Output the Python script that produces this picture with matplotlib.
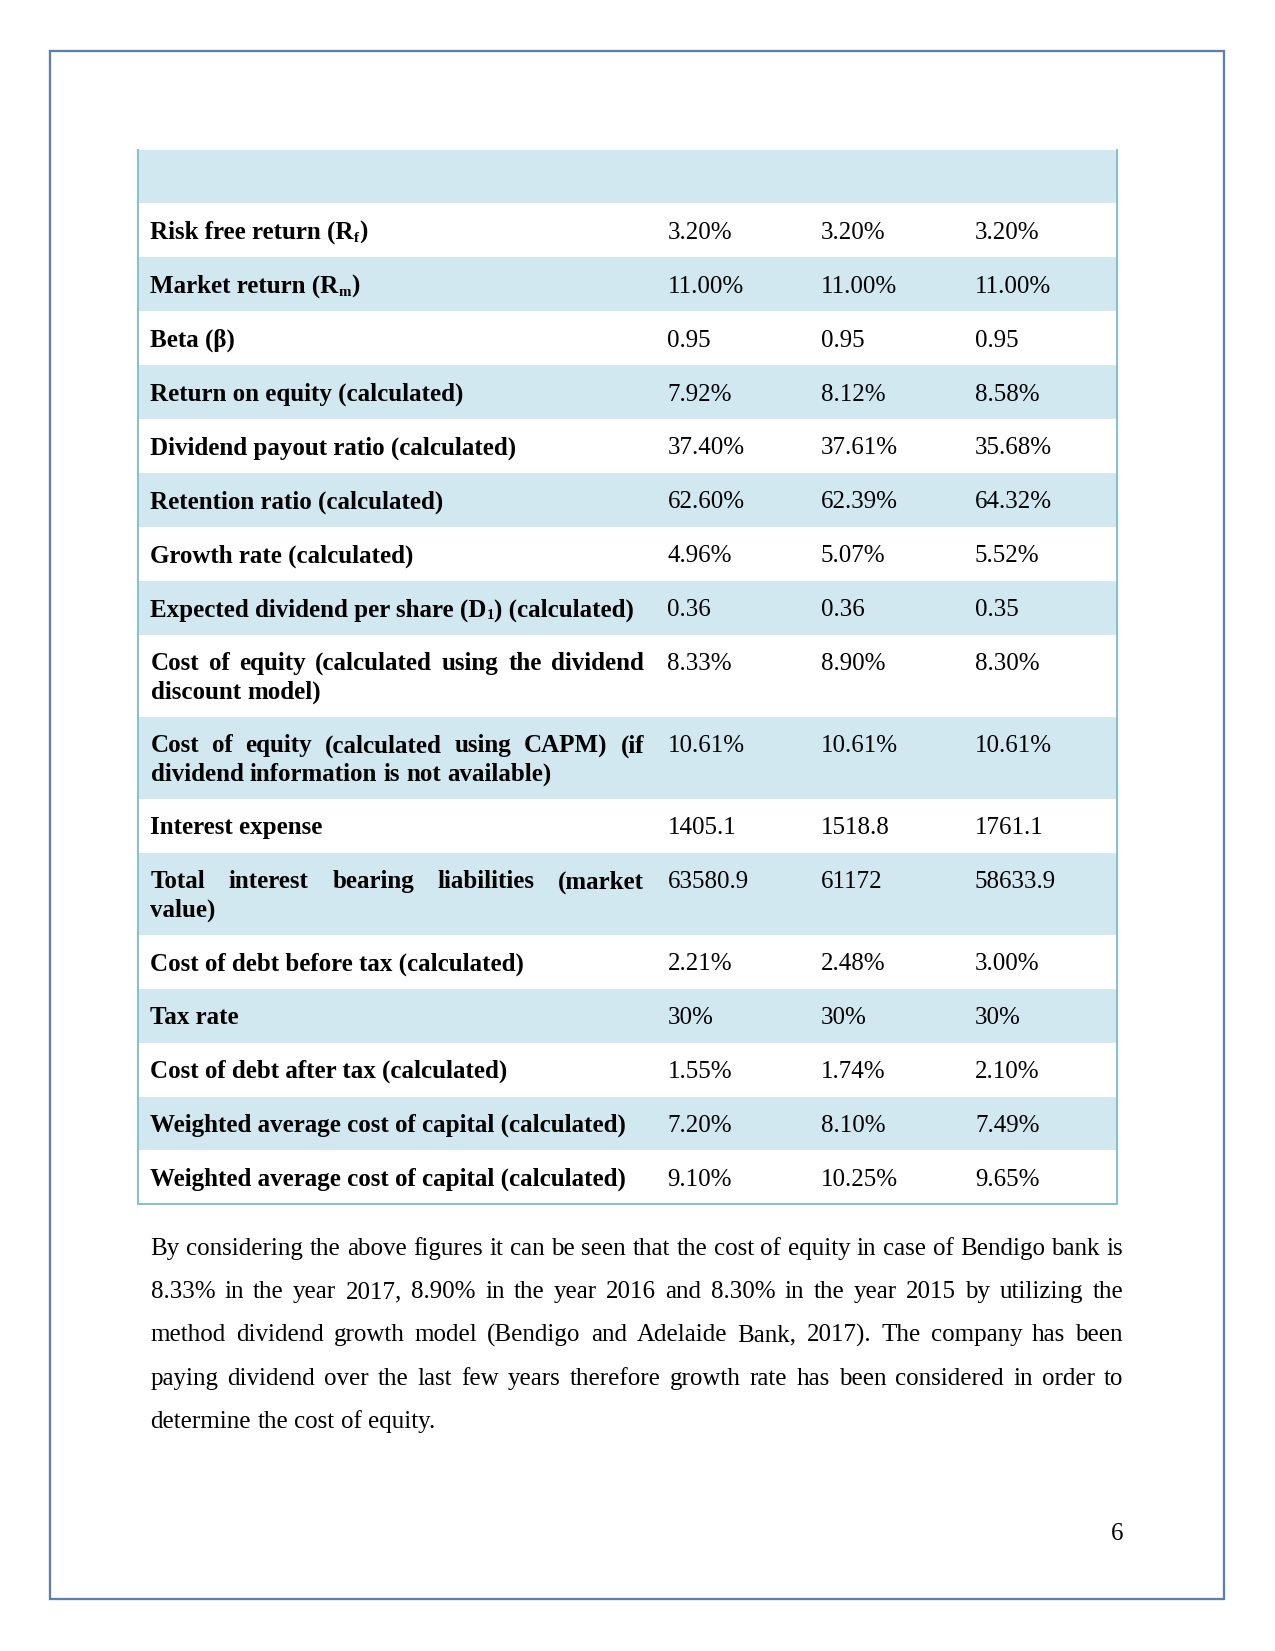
import re
import matplotlib
matplotlib.use("Agg")
import matplotlib.pyplot as plt
from matplotlib.patches import Rectangle

# ---- data -------------------------------------------------------------
labels = [
    "Risk free return (R_{f})",
    "Market return (R_{m})",
    "Beta (\u03b2)",
    "Return on equity (calculated)",
    "Dividend payout ratio (calculated)",
    "Retention ratio (calculated)",
    "Growth rate (calculated)",
    "Expected dividend per share (D_{1}) (calculated)",
    "Cost of equity (calculated using the dividend\ndiscount model)",
    "Cost of equity (calculated using CAPM) (if\ndividend information is not available)",
    "Interest expense",
    "Total interest bearing liabilities (market\nvalue)",
    "Cost of debt before tax (calculated)",
    "Tax rate",
    "Cost of debt after tax (calculated)",
    "Weighted average cost of capital (calculated)",
    "Weighted average cost of capital (calculated)",
]
col_2017 = ["3.20%", "11.00%", "0.95", "7.92%", "37.40%", "62.60%", "4.96%", "0.36",
            "8.33%", "10.61%", "1405.1", "63580.9", "2.21%", "30%", "1.55%", "7.20%", "9.10%"]
col_2016 = ["3.20%", "11.00%", "0.95", "8.12%", "37.61%", "62.39%", "5.07%", "0.36",
            "8.90%", "10.61%", "1518.8", "61172", "2.48%", "30%", "1.74%", "8.10%", "10.25%"]
col_2015 = ["3.20%", "11.00%", "0.95", "8.58%", "35.68%", "64.32%", "5.52%", "0.35",
            "8.30%", "10.61%", "1761.1", "58633.9", "3.00%", "30%", "2.10%", "7.49%", "9.65%"]

paragraph = [
    "By considering the above figures it can be seen that the cost of equity in case of Bendigo bank is",
    "8.33% in the year 2017, 8.90% in the year 2016 and 8.30% in the year 2015 by utilizing the",
    "method dividend growth model (Bendigo and Adelaide Bank, 2017). The company has been",
    "paying dividend over the last few years therefore growth rate has been considered in order to",
    "determine the cost of equity.",
]
page_no = "6"

# ---- layout (pixels, dpi 150) -----------------------------------------
W, H, DPI = 1275, 1651, 150
FONT = "Liberation Serif"
FS = 12
BLUE = "#D2E8F0"
EDGE = "#7CBDD0"

fig = plt.figure(figsize=(W / DPI, H / DPI), dpi=DPI)
ax = fig.add_axes([0, 0, 1, 1])
ax.set_xlim(0, W)
ax.set_ylim(H, 0)
ax.axis("off")
renderer = fig.canvas.get_renderer()
space_w = 0.25 * FS * DPI / 72


def width(t):
    return t.get_window_extent(renderer).width


def put_words(words, x0, x1, y, justify, **kw):
    objs = [ax.text(0, y, w, va="baseline", ha="left", **kw) for w in words]
    ws = [width(o) for o in objs]
    gap = (x1 - x0 - sum(ws)) / (len(ws) - 1) if justify and len(ws) > 1 else space_w
    x = x0
    for o, w in zip(objs, ws):
        o.set_x(x)
        x += w + gap


def put_runs(s, x, y, **kw):
    # "_{...}" marks a subscript
    parts = re.split(r"_\{(.*?)\}", s)
    for i, p in enumerate(parts):
        if not p:
            continue
        if i % 2:
            t = ax.text(x, y + 3, p, va="baseline", size=FS * 0.6, **kw)
        else:
            t = ax.text(x, y, p, va="baseline", size=FS, **kw)
        x += width(t)


# page border
ax.add_patch(Rectangle((50, 51), 1174, 1548, fill=False, ec="#5B80B0", lw=1.1))

tx0, tx1 = 138, 1117
lab_x0, lab_x1 = 150.5, 644
val_x = [667.5, 821, 975]
single, double, line_gap = 53.9, 82.1, 28.5

y = 149.5
ax.add_patch(Rectangle((tx0, y), tx1 - tx0, single, fc=BLUE, ec="none"))
y += single
for i, lab in enumerate(labels):
    lines = lab.split("\n")
    h = single if len(lines) == 1 else double
    if i % 2 == 1:
        ax.add_patch(Rectangle((tx0, y), tx1 - tx0, h, fc=BLUE, ec="none"))
    base = y + single / 2 + 8.5
    if len(lines) == 1:
        put_runs(lab, lab_x0, base, family=FONT, weight="bold", color="black")
    else:
        put_words(lines[0].split(), lab_x0, lab_x1, base, True,
                  family=FONT, weight="bold", size=FS, color="black")
        put_words(lines[1].split(), lab_x0, lab_x1, base + line_gap, False,
                  family=FONT, weight="bold", size=FS, color="black")
    for xv, col in zip(val_x, [col_2017, col_2016, col_2015]):
        ax.text(xv, base, col[i], va="baseline", ha="left", family=FONT, size=FS, color="black")
    y += h

# table border (left, right, bottom)
ax.plot([tx0, tx0, tx1, tx1], [149.5, y, y, 149.5], color=EDGE, lw=0.9, solid_joinstyle="miter")

# paragraph
para_x0, para_x1 = 150.5, 1123
py = 1255
for k, line in enumerate(paragraph):
    put_words(line.split(), para_x0, para_x1, py, k < len(paragraph) - 1,
              family=FONT, size=FS, color="black")
    py += 43.2

ax.text(1123, 1540, page_no, ha="right", va="baseline", family=FONT, size=FS, color="black")

fig.savefig("out.png", dpi=DPI)
